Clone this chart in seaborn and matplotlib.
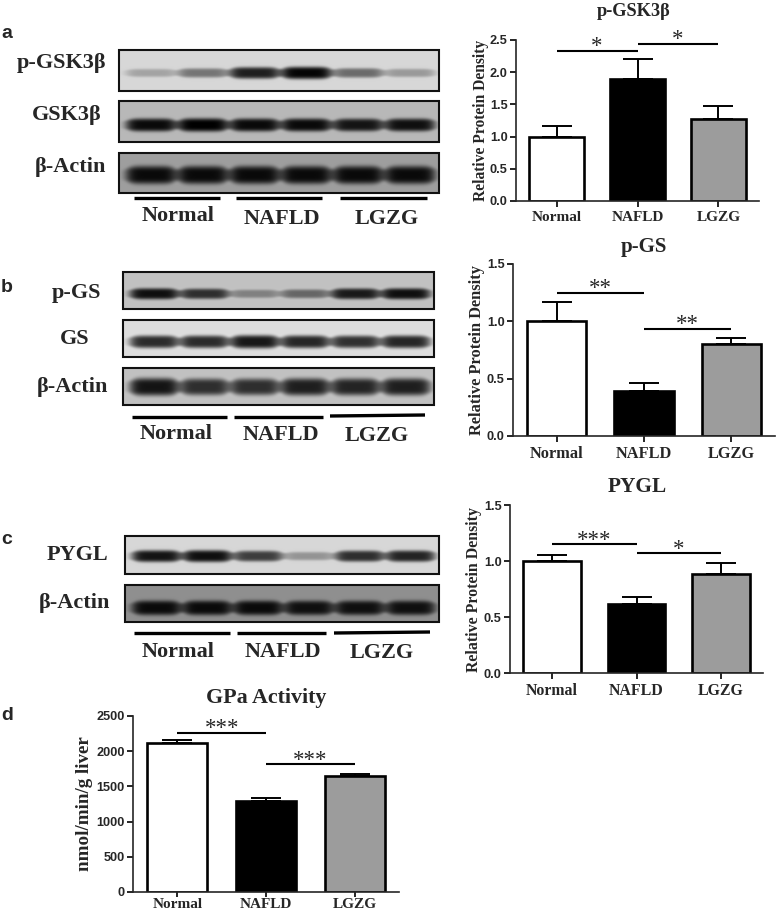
import numpy as np
import pandas as pd
import matplotlib
matplotlib.use('Agg')
import matplotlib.pyplot as plt
from matplotlib.patches import Rectangle
import seaborn as sns

W, H = 778, 915
SERIF = 'Liberation Serif'
SANS = 'Liberation Sans'

groups = ['Normal', 'NAFLD', 'LGZG']
bar_colors = ['#ffffff', '#000000', '#9c9c9c']

# bar heights and top of error bars
pgsk_vals = [1.0, 1.9, 1.28]
pgsk_tops = [1.16, 2.2, 1.48]
pgs_vals = [1.0, 0.39, 0.8]
pgs_tops = [1.17, 0.46, 0.855]
pygl_vals = [1.0, 0.62, 0.885]
pygl_tops = [1.05, 0.675, 0.98]
gpa_vals = [2110, 1290, 1650]
gpa_tops = [2160, 1335, 1675]

# significance bars: level over first pair, level over second pair, stars
pgsk_sig = [2.33, 2.44, '*', '*']
pgs_sig = [1.247, 0.933, '**', '**']
pygl_sig = [1.15, 1.07, '***', '*']
gpa_sig = [2258, 1815, '***', '***']

# band strength per lane on the blots, read by eye
pgsk_band = [0.2, 0.38, 0.72, 0.82, 0.42, 0.24]
gsk_band = [0.68, 0.72, 0.68, 0.68, 0.64, 0.66]
actin_a_band = [0.58, 0.58, 0.58, 0.58, 0.58, 0.58]
pgs_band = [0.7, 0.58, 0.26, 0.36, 0.66, 0.7]
gs_band = [0.7, 0.7, 0.78, 0.72, 0.68, 0.72]
actin_b_band = [0.68, 0.58, 0.58, 0.64, 0.62, 0.64]
pygl_band = [0.76, 0.78, 0.6, 0.26, 0.66, 0.7]
actin_c_band = [0.52, 0.52, 0.52, 0.5, 0.5, 0.5]


def px_axes(fig, left, right, top, bottom):
    return fig.add_axes([left / W, 1 - bottom / H, (right - left) / W, (bottom - top) / H])


def bar_panel(fig, box, vals, tops, sig, ymax, step, title, title_xy, ylabel, label_x, fmt, lab_size, tick_size,
              x_pad=3, x_len=4):
    left, right, top, bottom = box
    ax = px_axes(fig, left, right, top, bottom)
    df = pd.DataFrame({'group': groups, 'value': vals})
    sns.barplot(data=df, x='group', y='value', hue='group', palette=bar_colors, dodge=False,
                legend=False, width=0.68, edgecolor='black', linewidth=1.9, saturation=1, ax=ax)
    up = np.array(tops) - np.array(vals)
    ax.errorbar(range(3), vals, yerr=[np.zeros(3), up], fmt='none', ecolor='black',
                elinewidth=1.4, capsize=10.5, capthick=1.4, zorder=1)
    ax.set_xlim(-0.5, 2.5)
    ax.set_ylim(0, ymax)
    ax.set_yticks(np.arange(0, ymax + step / 2, step))
    ax.set_yticklabels([fmt.format(t) for t in ax.get_yticks()], family=SANS, weight='bold', fontsize=9.2)
    ax.set_xticks(range(3))
    ax.set_xticklabels(groups, family=SERIF, weight='bold', fontsize=tick_size)
    ax.set_xlabel('')
    ax.tick_params(width=1.2, length=4, pad=2, color='black')
    ax.tick_params(axis='x', pad=x_pad, length=x_len)
    sns.despine(ax=ax)
    for s in ['left', 'bottom']:
        ax.spines[s].set_linewidth(1.2)
    ax.set_ylabel(ylabel, family=SERIF, weight='bold', fontsize=lab_size)
    ax.yaxis.set_label_coords((label_x - left) / (right - left), 0.5)
    # significance bars
    for i in range(2):
        ax.plot([i, i + 1], [sig[i], sig[i]], color='black', lw=1.5, clip_on=False, solid_capstyle='butt')
        ax.annotate(sig[i + 2], (i + 0.5, sig[i]), xytext=(0, -1), textcoords='offset points', ha='center',
                    va='baseline', family=SERIF, fontsize=16.5, annotation_clip=False)
    fig.text(title_xy[0] / W, 1 - title_xy[1] / H, title, family=SERIF, weight='bold', fontsize=title_xy[2],
             ha='center', va='center')
    return ax


def blot(ax, box, bands, bg, y_frac, thick):
    x0, x1, y0, y1 = box
    w, h = (x1 - x0) * 2, (y1 - y0) * 2
    xx, yy = np.meshgrid(np.linspace(0, 1, w), np.linspace(0, 1, h))
    img = np.full((h, w), float(bg))
    for lane, strength in zip(np.linspace(0.1, 0.91, 6), bands):
        across = np.exp(-((xx - lane) / 0.08) ** 6)
        # bands narrow a little towards the lane edges
        t = thick * (0.6 + strength * 0.6) * (0.55 + 0.45 * across)
        down = np.exp(-((yy - y_frac) / t) ** 4)
        img -= strength * across * down
    ax.imshow(np.clip(img, 0, 1), extent=(x0, x1, y1, y0), cmap='gray', vmin=0, vmax=1, aspect='auto',
              interpolation='bilinear')
    ax.add_patch(Rectangle((x0, y0), x1 - x0, y1 - y0, fill=False, ec='#111111', lw=1.5))


fig = plt.figure(figsize=(W / 100, H / 100), dpi=100, facecolor='white')
sns.set_style('ticks')

over = fig.add_axes([0, 0, 1, 1])
over.axis('off')

blots = [
    ((119, 439, 50, 91), pgsk_band, 0.84, 0.56, 0.14),
    ((119, 439, 101, 142), gsk_band, 0.72, 0.585, 0.16),
    ((119, 439, 153, 193), actin_a_band, 0.62, 0.55, 0.24),
    ((123, 434, 272, 309), pgs_band, 0.76, 0.59, 0.15),
    ((123, 434, 320, 357), gs_band, 0.87, 0.59, 0.17),
    ((123, 434, 368, 405), actin_b_band, 0.76, 0.51, 0.24),
    ((125, 439, 536, 574), pygl_band, 0.84, 0.53, 0.15),
    ((125, 439, 585, 622), actin_c_band, 0.56, 0.62, 0.22),
]
for box, bands, bg, y_frac, thick in blots:
    blot(over, box, bands, bg, y_frac, thick)

row_labels = [('p-GSK3\u03b2', 106, 63), ('GSK3\u03b2', 102, 115), ('\u03b2-Actin', 106, 167),
              ('p-GS', 101, 293), ('GS', 90, 339), ('\u03b2-Actin', 108, 387),
              ('PYGL', 108, 555), ('\u03b2-Actin', 110, 603)]
for txt, x, y in row_labels:
    over.text(x, y, txt, family=SERIF, weight='bold', fontsize=16, ha='right', va='center')

group_rows = [
    ([(134, 220, 198, 198), (236, 322, 198, 198), (340, 427, 198, 198)], [(178, 216), (282, 219), (387, 219)]),
    ([(132, 227, 417, 417), (234, 323, 417, 417), (330, 425, 416, 415)], [(176, 434), (281, 435), (377, 436)]),
    ([(134, 230, 633, 633), (237, 326, 633, 633), (334, 430, 633, 632)], [(178, 652), (283, 652), (382, 653)]),
]
for lines, labs in group_rows:
    for (xa, xb, ya, yb), name, (tx, ty) in zip(lines, groups, labs):
        over.plot([xa, xb], [ya, yb], color='black', lw=2.4, solid_capstyle='butt')
        over.text(tx, ty, name, family=SERIF, weight='bold', fontsize=16, ha='center', va='center')

for letter, y in [('a', 33), ('b', 288), ('c', 539), ('d', 716)]:
    over.text(1, y, letter, family=SANS, weight='bold', fontsize=14, ha='left', va='center')

over.set_xlim(0, W)
over.set_ylim(H, 0)

rel = 'Relative Protein Density'
bar_panel(fig, (516, 759, 40, 201), pgsk_vals, pgsk_tops, pgsk_sig, 2.5, 0.5, 'p-GSK3\u03b2', (634, 11, 13.2),
          rel, 489, '{:.1f}', 11.2, 11)
bar_panel(fig, (513, 775, 264, 436), pgs_vals, pgs_tops, pgs_sig, 1.5, 0.5, 'p-GS', (644, 247, 15),
          rel, 485, '{:.1f}', 11.8, 11.8)
bar_panel(fig, (510, 763, 505, 673), pygl_vals, pygl_tops, pygl_sig, 1.5, 0.5, 'PYGL', (637, 487, 15.4),
          rel, 482, '{:.1f}', 11.4, 11.4)
bar_panel(fig, (133, 399, 716, 892), gpa_vals, gpa_tops, gpa_sig, 2500, 500, 'GPa Activity', (266, 698, 15.8),
          'nmol/min/g liver', 93, '{:.0f}', 13.7, 11, x_pad=0.5, x_len=3.5)

fig.savefig('out.png', dpi=100)
